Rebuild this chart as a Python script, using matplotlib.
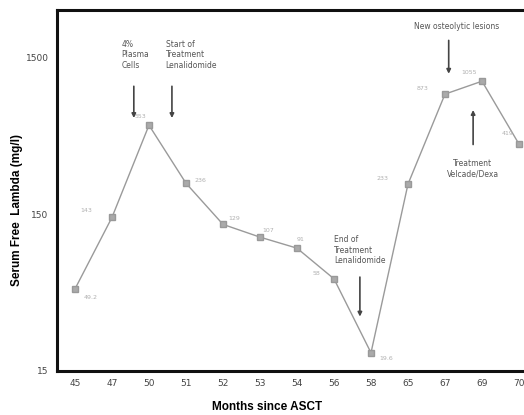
import matplotlib
matplotlib.use("Agg")
import matplotlib.pyplot as plt

months = ["45", "47", "50", "51", "52", "53", "54", "56", "58", "65", "67", "69", "70"]
lambda_vals = [50, 143, 553, 236, 129, 107, 91, 58, 19.6, 233, 873, 1055, 419]
point_labels = ["49.2", "143", "553", "236", "129", "107", "91", "58", "19.6", "233", "873", "1055", "419"]
label_offsets = [(6, -6), (-14, 5), (-2, 6), (6, 2), (4, 4), (2, 5), (0, 6), (-10, 4), (6, -4),
                 (-14, 4), (-12, 4), (-4, 6), (-4, 8)]
yticks = [15, 150, 1500]

fig = plt.figure(figsize=(5.24, 4.15), dpi=100)
ax = fig.add_axes([57 / 524, 1 - 371 / 415, (524 - 57) / 524, (371 - 10) / 415])

x = list(range(len(months)))
ax.plot(x, lambda_vals, color="#9a9a9a", lw=1.0, marker="s", ms=4,
        mfc="#aaaaaa", mec="#999999", zorder=3)
for xi, v, lab, off in zip(x, lambda_vals, point_labels, label_offsets):
    ax.annotate(lab, (xi, v), xytext=off, textcoords="offset points",
                fontsize=4.5, color="#b0b0b0", ha="left" if off[0] >= 0 else "right",
                va="center")

ax.set_yscale("log")
ax.set_ylim(15, 3000)
ax.set_xlim(-0.486, 12.135)
ax.set_yticks(yticks)
ax.set_yticklabels([str(t) for t in yticks])
ax.minorticks_off()
ax.set_xticks(x)
ax.set_xticklabels(months)
ax.tick_params(axis="both", labelsize=6.5, length=0, pad=6)
for t in ax.get_xticklabels() + ax.get_yticklabels():
    t.set_color("#444444")

for s in ["top", "left", "bottom"]:
    ax.spines[s].set_linewidth(2.2)
    ax.spines[s].set_color("#111111")
ax.spines["right"].set_visible(False)

ax.set_xlabel("Months since ASCT", fontsize=8.5, fontweight="bold", family="Liberation Sans")
ax.set_ylabel("Serum Free  Lambda (mg/l)", fontsize=8.5, fontweight="bold", family="Liberation Sans")
ax.xaxis.set_label_coords(0.45, -0.082)
ax.yaxis.set_label_coords(-0.072, 0.446)

arrow = dict(arrowstyle="-|>", color="#444444", lw=1.2, mutation_scale=6)
tfs = 5.5
tc = "#555555"
ax.text(1.25, 1250, "4%\nPlasma\nCells", fontsize=tfs, color=tc, ha="left", va="bottom")
ax.annotate("", xy=(1.59, 590), xytext=(1.59, 1020), arrowprops=arrow)
ax.text(2.45, 1250, "Start of\nTreatment\nLenalidomide", fontsize=tfs, color=tc, ha="left", va="bottom")
ax.annotate("", xy=(2.62, 590), xytext=(2.62, 1020), arrowprops=arrow)
ax.text(7.0, 71, "End of\nTreatment\nLenalidomide", fontsize=tfs, color=tc, ha="left", va="bottom")
ax.annotate("", xy=(7.70, 32), xytext=(7.70, 62), arrowprops=arrow)
ax.text(9.15, 2350, "New osteolytic lesions", fontsize=tfs, color=tc, ha="left", va="center")
ax.annotate("", xy=(10.1, 1130), xytext=(10.1, 2000), arrowprops=arrow)
ax.text(10.75, 335, "Treatment\nVelcade/Dexa", fontsize=tfs, color=tc, ha="center", va="top")
ax.annotate("", xy=(10.76, 720), xytext=(10.76, 400), arrowprops=arrow)

fig.savefig("out.png", dpi=100)
